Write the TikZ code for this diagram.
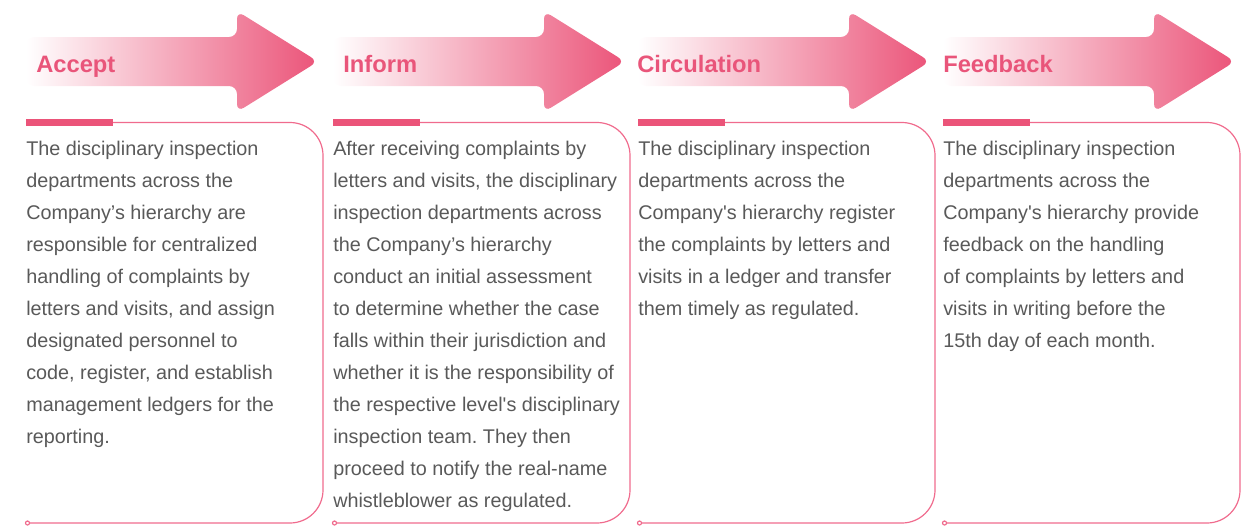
\documentclass[tikz,border=0pt]{standalone}
\usepackage{fontspec}
\setmainfont{Liberation Sans}
\usepackage{tikz}
\usetikzlibrary{positioning}

\definecolor{arrowpink}{HTML}{EB5479}
\definecolor{headpink}{HTML}{E9557A}
\definecolor{linepink}{HTML}{F06B8D}
\definecolor{bodygray}{HTML}{595959}

\begin{document}
\frenchspacing
\begin{tikzpicture}[x=0.75pt, y=-0.75pt,
    heading/.style={anchor=base west, inner sep=0pt, text=headpink,
        font=\fontsize{17.8}{21}\selectfont\bfseries},
    body/.style={anchor=north west, inner sep=0pt, align=left, text=bodygray,
        font=\fontsize{14.85}{24}\selectfont},
    outline/.style={draw=linepink, line width=0.9pt, rounded corners=24.75pt}]
            \useasboundingbox (0,0) rectangle (1252,525);
            % arrows, bars and box outlines
            \foreach \l in {26,333,638,943} {
                \shade [left color=white, right color=arrowpink, rounded corners=6pt]
                    (\l,37) -- (\l+211,37) -- (\l+211,11) -- (\l+292,61.5)
                    -- (\l+211,112) -- (\l+211,86) -- (\l,86) -- cycle;
                \fill [arrowpink] (\l,119) rectangle (\l+87,126);
                \draw [outline] (\l+87,122.5) -- (\l+297,122.5) -- (\l+297,523) -- (\l+3,523);
                \draw [draw=linepink, line width=0.9pt, fill=white] (\l+1.5,523) circle (1.5pt);
            }
            \node [heading] (accept) at (36,72) {Accept};
            \node [heading] (inform) at (343,72) {Inform};
            \node [heading] (circulation) at (637,72) {Circulation};
            \node [heading] (feedback) at (943,72) {Feedback};
            \node [body] (accepttext) at (26,132.6) {\strut The disciplinary inspection\\
                departments across the\\
                Company’s hierarchy are\\
                responsible for centralized\\
                handling of complaints by\\
                letters and visits, and assign\\
                designated personnel to\\
                code, register, and establish\\
                management ledgers for the\\
                reporting.};
            \node [body] (informtext) at (333,132.6) {\strut After receiving complaints by\\
                letters and visits, the disciplinary\\
                inspection departments across\\
                the Company’s hierarchy\\
                conduct an initial assessment\\
                to determine whether the case\\
                falls within their jurisdiction and\\
                whether it is the responsibility of\\
                the respective level\textquotesingle s disciplinary\\
                inspection team. They then\\
                proceed to notify the real-name\\
                whistleblower as regulated.};
            \node [body] (circulationtext) at (638,132.6) {\strut The disciplinary inspection\\
                departments across the\\
                Company\textquotesingle s hierarchy register\\
                the complaints by letters and\\
                visits in a ledger and transfer\\
                them timely as regulated.};
            \node [body] (feedbacktext) at (943,132.6) {\strut The disciplinary inspection\\
                departments across the\\
                Company\textquotesingle s hierarchy provide\\
                feedback on the handling\\
                of complaints by letters and\\
                visits in writing before the\\
                15th day of each month.};
        \end{tikzpicture}
\end{document}
